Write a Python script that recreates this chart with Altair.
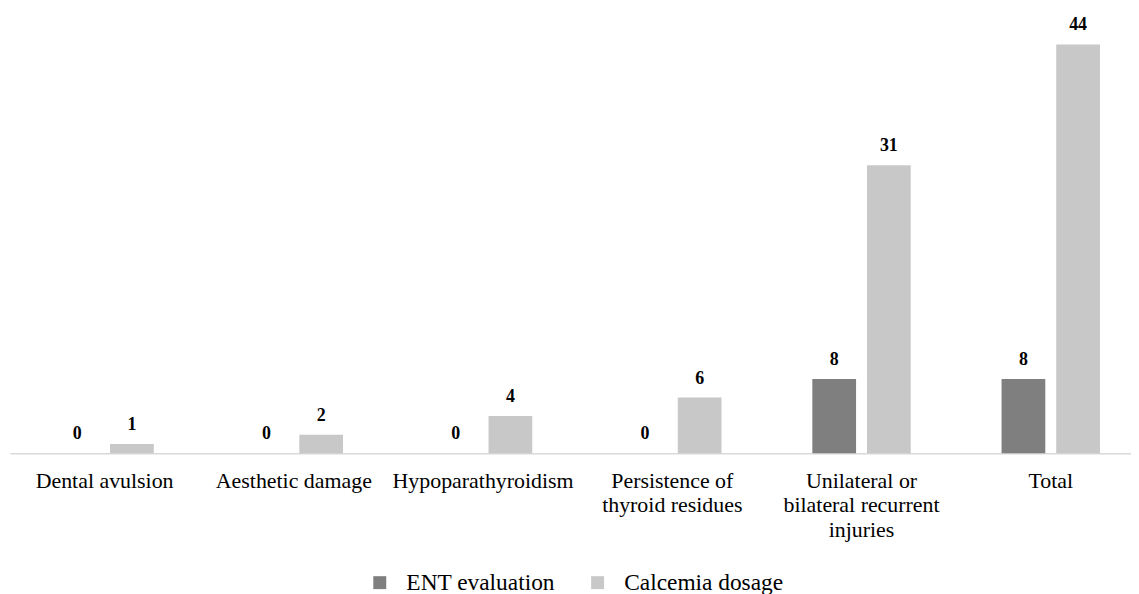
import altair as alt
import pandas as pd

categories = ["Dental avulsion", "Aesthetic damage", "Hypoparathyroidism",
              "Persistence of|thyroid residues",
              "Unilateral or|bilateral recurrent|injuries", "Total"]
series = ["ENT evaluation", "Calcemia dosage"]
ent_values = [0, 0, 0, 0, 8, 8]
calcemia_values = [1, 2, 4, 6, 31, 44]
colors = ["#7f7f7f", "#c8c8c8"]

rows = []
for c, e, k in zip(categories, ent_values, calcemia_values):
    rows.append({"category": c, "series": series[0], "value": e})
    rows.append({"category": c, "series": series[1], "value": k})
df = pd.DataFrame(rows)

FONT = "Liberation Serif"

x_enc = alt.X("category:N", sort=categories,
              scale=alt.Scale(paddingInner=0.48, paddingOuter=0.202, align=0.594,
                              round=False),
              axis=alt.Axis(title=None, labelAngle=0, ticks=False, domain=True,
                            domainColor="#d9d9d9", domainWidth=1.5,
                            labelFont=FONT, labelFontSize=22, labelColor="#000000",
                            labelPadding=17, labelLineHeight=25,
                            labelExpr="split(datum.label, '|')", labelLimit=400))
xo = alt.XOffset("series:N", sort=series, scale=alt.Scale(paddingInner=0.2))
y_enc = alt.Y("value:Q", scale=alt.Scale(domain=[0, 44], nice=False), axis=None)

bars = alt.Chart(df).mark_bar().encode(
    x=x_enc, xOffset=xo, y=y_enc,
    color=alt.Color("series:N", sort=series,
                    scale=alt.Scale(domain=series, range=colors),
                    legend=alt.Legend(title=None, orient="none", direction="horizontal",
                                      legendX=360, legendY=529,
                                      symbolType="square", symbolSize=169,
                                      symbolStrokeWidth=0,
                                      labelFont=FONT, labelFontSize=23.5,
                                      labelColor="#000000", columnPadding=31,
                                      labelOffset=15, labelLimit=300)),
)

labels = alt.Chart(df).mark_text(font=FONT, fontSize=18, fontWeight="bold",
                                 baseline="alphabetic", dy=-14, color="#000000").encode(
    x=alt.X("category:N", sort=categories), xOffset=xo,
    y=alt.Y("value:Q"),
    text=alt.Text("value:Q"),
)

chart = (bars + labels).properties(
    width=1127, height=411,
    padding={"left": 2, "top": 35, "right": 0, "bottom": 150},
    autosize=alt.AutoSizeParams(type="none"),
).configure_view(stroke=None)

chart.save("out.html", embed_options={"renderer": "svg", "actions": False})
